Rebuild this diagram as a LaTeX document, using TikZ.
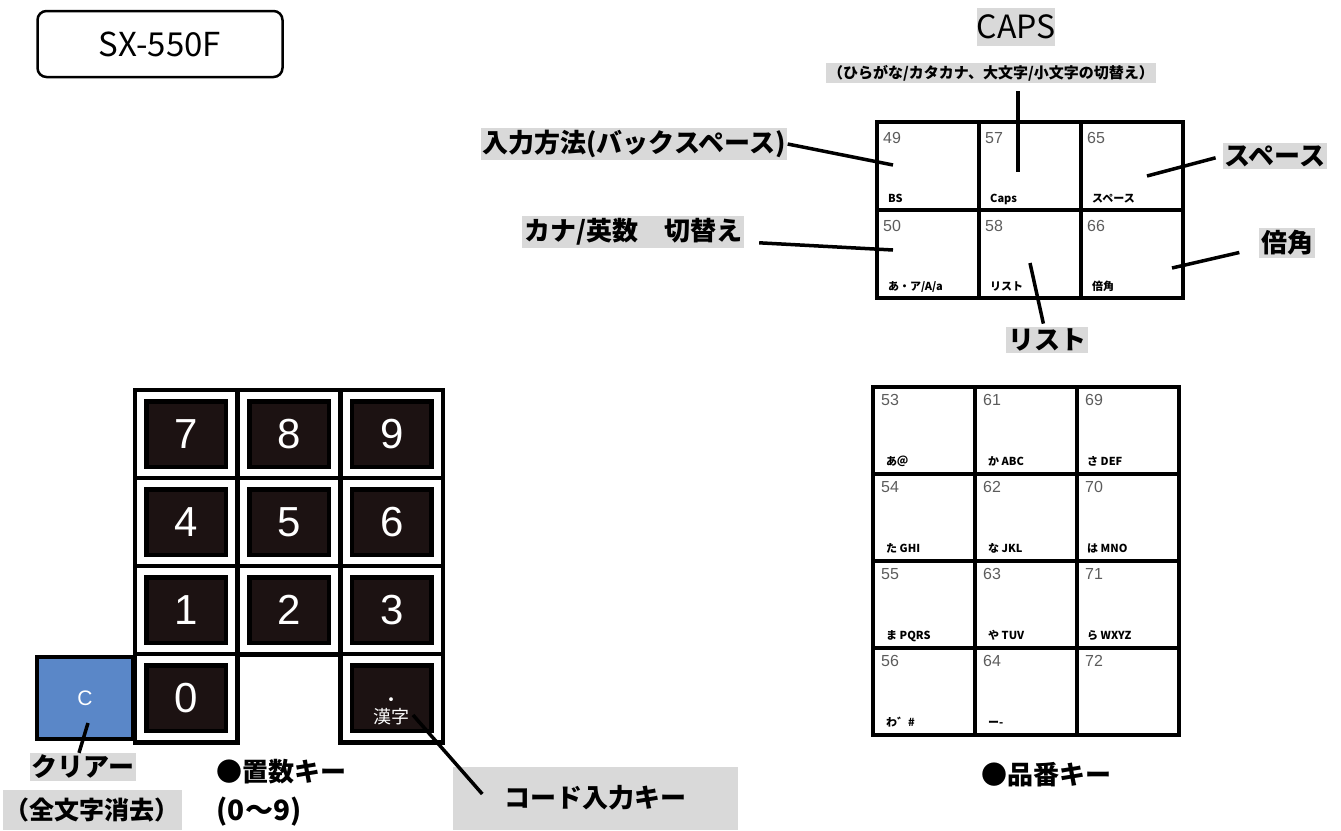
\documentclass[tikz,border=0pt]{standalone}
\usepackage{fontspec}
\setmainfont{Noto Sans CJK JP}
\newfontfamily\arialfont{Liberation Sans}
\usepackage{tikz}
\usetikzlibrary{calc}

\definecolor{labelgray}{HTML}{D9D9D9}
\definecolor{keydark}{HTML}{1C1212}
\definecolor{keyblue}{HTML}{5A87C8}
\definecolor{numgray}{HTML}{5C5C5C}

\newcommand{\fs}[1]{\fontsize{#1}{#1}\selectfont}

\tikzset{
  callout/.style={fill=labelgray,inner sep=2pt,font=\bfseries\fs{26}},
  lead/.style={draw=black,line width=3.5pt},
  padcell/.style={draw=black,line width=4pt,minimum width=102pt,minimum height=88pt,inner sep=0pt,outer sep=0pt},
  partcell/.style={padcell,minimum height=87pt},
  cellnum/.style={anchor=base west,inner sep=0pt,text=numgray,font=\arialfont\fs{16}},
  celllab/.style={anchor=base west,inner sep=0pt,font=\bfseries\fs{11}},
  numkey/.style={fill=keydark,draw=black,double=white,line width=4.5pt,double distance=7pt,
    minimum width=91pt,minimum height=77pt,inner sep=0pt,text=white,font=\arialfont\fs{42}},
}

\begin{document}
\begin{tikzpicture}[x=1pt,y=-1pt]
		\useasboundingbox (0,0) rectangle (1341,830);
		
		\node[draw=black,line width=2.5pt,rounded corners=9pt,minimum width=245pt,minimum height=66pt,font=\fs{33}] (model) at (160,44) {SX-550F};
		
		% function keys
		\node[padcell] (c49) at (928,166) {};
		\node[padcell] (c57) at (1030,166) {};
		\node[padcell] (c65) at (1132,166) {};
		\node[padcell] (c50) at (928,254) {};
		\node[padcell] (c58) at (1030,254) {};
		\node[padcell] (c66) at (1132,254) {};
		
		\node[cellnum] (n49) at ([xshift=6pt,yshift=-21pt]c49.north west) {49};
		\node[cellnum] (n57) at ([xshift=6pt,yshift=-21pt]c57.north west) {57};
		\node[cellnum] (n65) at ([xshift=6pt,yshift=-21pt]c65.north west) {65};
		\node[cellnum] (n50) at ([xshift=6pt,yshift=-21pt]c50.north west) {50};
		\node[cellnum] (n58) at ([xshift=6pt,yshift=-21pt]c58.north west) {58};
		\node[cellnum] (n66) at ([xshift=6pt,yshift=-21pt]c66.north west) {66};
		
		\node[celllab] (t49) at ([xshift=11pt,yshift=8pt]c49.south west) {BS};
		\node[celllab] (t57) at ([xshift=11pt,yshift=8pt]c57.south west) {Caps};
		\node[celllab] (t65) at ([xshift=11pt,yshift=8pt]c65.south west) {スペース};
		\node[celllab] (t50) at ([xshift=11pt,yshift=8pt]c50.south west) {あ・ア/A/a};
		\node[celllab] (t58) at ([xshift=11pt,yshift=8pt]c58.south west) {リスト};
		\node[celllab] (t66) at ([xshift=11pt,yshift=8pt]c66.south west) {倍角};
		
		\node[callout,font=\fs{32},minimum width=72pt,minimum height=38pt,inner sep=0pt] (lbCaps) at (1016,27) {CAPS};
		\node[callout,font=\bfseries\fs{15}] (lbCapsSub) at (991,73) {（ひらがな/カタカナ、大文字/小文字の切替え）};
		\node[callout] (lbBS) at (634,144) {入力方法(バックスペース)};
		\node[callout] (lbKana) at (633,232) {カナ/英数　切替え};
		\node[callout] (lbSpace) at (1275,156) {スペース};
		\node[callout] (lbDouble) at (1287,243) {倍角};
		\node[callout] (lbList) at (1047,340) {リスト};
		
		\coordinate (ptCaps) at (1018,172);
		\coordinate (ptBS) at (893,165);
		\coordinate (ptKana) at (893,250);
		\coordinate (ptSpace) at (1147,176);
		\coordinate (ptDouble) at (1172,268);
		\coordinate (ptList) at (1030,263);
		
		\draw[lead,shorten <=8pt] (lbCapsSub.south -| ptCaps) -- (ptCaps);
		\draw[lead] (lbBS.east) -- (ptBS);
		\draw[lead,shorten <=15pt] ([yshift=-10pt]lbKana.east) -- (ptKana);
		\draw[lead,shorten <=7pt] (lbSpace.west) -- (ptSpace);
		\draw[lead,shorten <=20pt] ([yshift=-5pt]lbDouble.west) -- (ptDouble);
		\draw[lead,shorten <=3pt] (lbList) -- (ptList);
		
		% ten keys
		\node[numkey] (k7) at (186.3,434) {7};
		\node[numkey] (k8) at (289,434) {8};
		\node[numkey] (k9) at (391.7,434) {9};
		\node[numkey] (k4) at (186.3,522) {4};
		\node[numkey] (k5) at (289,522) {5};
		\node[numkey] (k6) at (391.7,522) {6};
		\node[numkey] (k1) at (186.3,610) {1};
		\node[numkey] (k2) at (289,610) {2};
		\node[numkey] (k3) at (391.7,610) {3};
		\node[numkey] (k0) at (186.3,698) {0};
		\node[numkey] (kKanji) at (391.7,698) {};
		\node[text=white,align=center,inner sep=0pt,font=\fs{18}] (kKanjiText) at (391.7,711) {・\\[-1pt]漢字};
		\node[fill=keyblue,draw=black,line width=4pt,minimum width=96pt,minimum height=82pt,inner sep=0pt,text=white,font=\arialfont\fs{21}] (kClear) at (85,698) {C};
		
		\node[callout] (lbClear) at (83,767) {クリアー};
		\node[callout,font=\bfseries\fs{25},minimum height=40pt] (lbClearSub) at (92,810) {（全文字消去）};
		\node[inner sep=0pt,font=\bfseries\fs{26}] (lbDigits) at (281,772) {●置数キー};
		\node[inner sep=0pt,font=\bfseries\fs{28}] (lbDigitsSub) at (259,812) {(0～9)};
		\node[callout,minimum width=285pt,minimum height=63pt] (lbCode) at (595,798) {コード入力キー};
		
		\coordinate (ptClear) at (88,723);
		\coordinate (ptKanji) at (413,715);
		\draw[lead] ([xshift=-4pt]lbClear.north) -- (ptClear);
		\draw[lead] ([xshift=30pt,yshift=4pt]lbCode.west) -- (ptKanji);
		
		% item keys
		\node[partcell] (c53) at (924,430.5) {};
		\node[partcell] (c61) at (1026,430.5) {};
		\node[partcell] (c69) at (1128,430.5) {};
		\node[partcell] (c54) at (924,517.5) {};
		\node[partcell] (c62) at (1026,517.5) {};
		\node[partcell] (c70) at (1128,517.5) {};
		\node[partcell] (c55) at (924,604.5) {};
		\node[partcell] (c63) at (1026,604.5) {};
		\node[partcell] (c71) at (1128,604.5) {};
		\node[partcell] (c56) at (924,691.5) {};
		\node[partcell] (c64) at (1026,691.5) {};
		\node[partcell] (c72) at (1128,691.5) {};
		
		\node[cellnum] (n53) at ([xshift=8pt,yshift=-18pt]c53.north west) {53};
		\node[cellnum] (n61) at ([xshift=8pt,yshift=-18pt]c61.north west) {61};
		\node[cellnum] (n69) at ([xshift=8pt,yshift=-18pt]c69.north west) {69};
		\node[cellnum] (n54) at ([xshift=8pt,yshift=-18pt]c54.north west) {54};
		\node[cellnum] (n62) at ([xshift=8pt,yshift=-18pt]c62.north west) {62};
		\node[cellnum] (n70) at ([xshift=8pt,yshift=-18pt]c70.north west) {70};
		\node[cellnum] (n55) at ([xshift=8pt,yshift=-18pt]c55.north west) {55};
		\node[cellnum] (n63) at ([xshift=8pt,yshift=-18pt]c63.north west) {63};
		\node[cellnum] (n71) at ([xshift=8pt,yshift=-18pt]c71.north west) {71};
		\node[cellnum] (n56) at ([xshift=8pt,yshift=-18pt]c56.north west) {56};
		\node[cellnum] (n64) at ([xshift=8pt,yshift=-18pt]c64.north west) {64};
		\node[cellnum] (n72) at ([xshift=8pt,yshift=-18pt]c72.north west) {72};
		
		\node[celllab] (t53) at ([xshift=13pt,yshift=9pt]c53.south west) {あ＠};
		\node[celllab] (t61) at ([xshift=13pt,yshift=9pt]c61.south west) {か ABC};
		\node[celllab] (t69) at ([xshift=10pt,yshift=9pt]c69.south west) {さ DEF};
		\node[celllab] (t54) at ([xshift=13pt,yshift=9pt]c54.south west) {た GHI};
		\node[celllab] (t62) at ([xshift=13pt,yshift=9pt]c62.south west) {な JKL};
		\node[celllab] (t70) at ([xshift=10pt,yshift=9pt]c70.south west) {は MNO};
		\node[celllab] (t55) at ([xshift=13pt,yshift=9pt]c55.south west) {ま PQRS};
		\node[celllab] (t63) at ([xshift=13pt,yshift=9pt]c63.south west) {や TUV};
		\node[celllab] (t71) at ([xshift=10pt,yshift=9pt]c71.south west) {ら WXYZ};
		\node[celllab] (t56) at ([xshift=13pt,yshift=9pt]c56.south west) {わ゛\#};
		\node[celllab] (t64) at ([xshift=13pt,yshift=9pt]c64.south west) {ー-};
		
		\node[inner sep=0pt,font=\bfseries\fs{26}] (lbPartNo) at (1046,775) {●品番キー};
	\end{tikzpicture}
\end{document}
